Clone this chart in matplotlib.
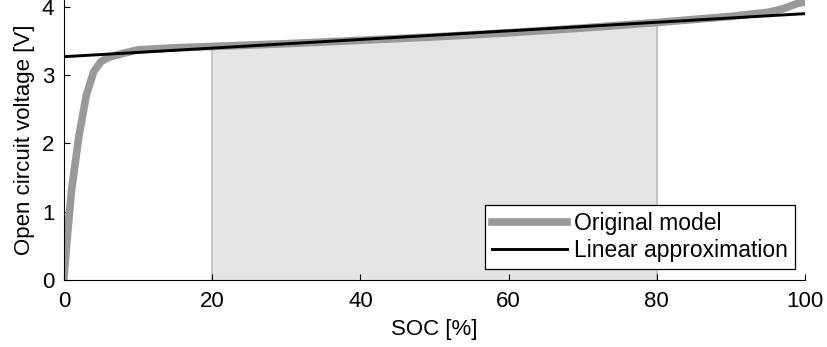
import numpy as np
import matplotlib.pyplot as plt

# original OCV model
soc = [0, 0.5, 1, 2, 3, 4, 5, 6, 8, 10, 15, 20, 30, 40, 50, 60, 70, 80, 90, 95, 97, 99, 100]
ocv = [0.05, 0.7, 1.3, 2.1, 2.7, 3.05, 3.2, 3.26, 3.32, 3.37, 3.4, 3.42, 3.46, 3.51, 3.56,
       3.62, 3.69, 3.77, 3.86, 3.92, 3.97, 4.05, 4.07]

# linear approximation end points
lin_soc = [0, 100]
lin_ocv = [3.27, 3.90]

# shaded operating window
window = [20, 80]

plt.rcParams['font.family'] = ['Liberation Sans', 'DejaVu Sans']
plt.rcParams['font.size'] = 16

fig = plt.figure(figsize=(8.27, 3.47), dpi=100)
ax = fig.add_axes([0.0774, 0.193, 0.896, 0.807])

s = np.array(soc, dtype=float)
v = np.array(ocv, dtype=float)
xs = np.linspace(window[0], window[1], 200)
ax.fill_between(xs, 0, np.interp(xs, s, v), color='#e5e5e5', lw=0, zorder=1)
for w in window:
    ax.plot([w, w], [0, np.interp(w, s, v)], color='#bdbdbd', lw=1.2, zorder=1.5)

ax.plot(soc, ocv, color='#999999', lw=5.5, label='Original model', zorder=2,
        solid_joinstyle='round')
ax.plot(lin_soc, lin_ocv, color='black', lw=2.1, label='Linear approximation', zorder=3)

ax.set_xlim(0, 100)
ax.set_ylim(0, 4.1)
ax.set_xticks([0, 20, 40, 60, 80, 100])
ax.set_yticks([0, 1, 2, 3, 4])
ax.tick_params(direction='in', length=4, width=0.8)
ax.tick_params(axis='x', pad=8)
ax.tick_params(axis='y', pad=7)
ax.spines['top'].set_visible(False)
ax.spines['right'].set_visible(False)
ax.set_xlabel('SOC [%]', labelpad=5)
ax.set_ylabel('Open circuit voltage [V]', labelpad=5)

leg = ax.legend(loc='lower right', bbox_to_anchor=(0.9865, 0.039), fancybox=False,
                framealpha=1, edgecolor='black', handlelength=3.3, handletextpad=0.3,
                borderpad=0.3, labelspacing=0.2, borderaxespad=0, fontsize=16.5)
leg.get_frame().set_linewidth(0.9)

fig.savefig('out.png', dpi=100)
